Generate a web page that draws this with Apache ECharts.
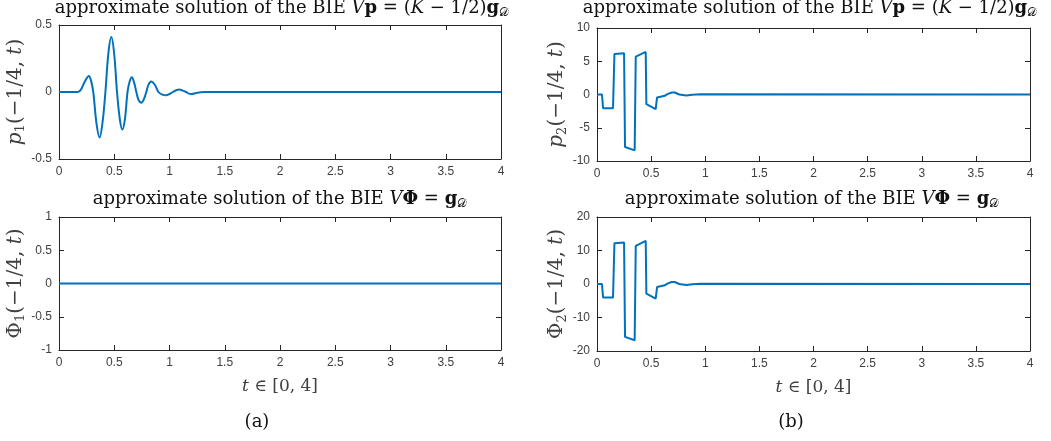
<!DOCTYPE html>
<html><head><meta charset="utf-8">
<script src="https://cdn.jsdelivr.net/npm/echarts@6/dist/echarts.min.js"></script>
<style>html,body{margin:0;padding:0;background:#fff}#c{width:1051px;height:441px}</style>
</head><body><div id="c"></div>
<script>
// ---- data ----
const xTicks = [0, 0.5, 1, 1.5, 2, 2.5, 3, 3.5, 4];
// (a) top: p1(-1/4,t)
const p1T = [0, 0.17, 0.2, 0.235, 0.27, 0.29, 0.31, 0.34, 0.368, 0.395, 0.42, 0.447, 0.474, 0.5, 0.525, 0.55, 0.573, 0.597, 0.62, 0.64, 0.66, 0.68, 0.7, 0.72, 0.745, 0.77, 0.79, 0.81, 0.835, 0.87, 0.9, 0.935, 0.97, 1.0, 1.03, 1.06, 1.09, 1.12, 1.15, 1.175, 1.2, 1.24, 1.28, 1.32, 4];
const p1V = [0, 0, 0.02, 0.08, 0.12, 0.085, 0.0, -0.24, -0.34, -0.22, 0.0, 0.29, 0.41, 0.28, 0.0, -0.2, -0.28, -0.2, 0.0, 0.08, 0.11, 0.07, 0.0, -0.06, -0.08, -0.05, 0.0, 0.055, 0.078, 0.05, 0.0, -0.02, -0.025, -0.015, 0.0, 0.013, 0.018, 0.01, 0.0, -0.012, -0.015, -0.008, -0.002, 0, 0];
// (a) bottom: Phi1(-1/4,t)
const phi1T = [0, 4];
const phi1V = [0, 0];
// (b) top: p2(-1/4,t)
const p2T = [0, 0.046, 0.056, 0.148, 0.161, 0.25, 0.259, 0.348, 0.358, 0.45, 0.456, 0.542, 0.555, 0.626, 0.65, 0.69, 0.718, 0.76, 0.826, 0.88, 0.96, 4];
const p2V = [0, 0, -2.05, -2.05, 6.1, 6.2, -7.9, -8.4, 5.7, 6.4, -1.45, -2.2, -0.45, -0.2, 0.05, 0.3, 0.3, 0.0, -0.15, -0.05, 0.02, 0];
// (b) bottom: Phi2(-1/4,t)
const phi2T = [0, 0.046, 0.056, 0.148, 0.161, 0.25, 0.259, 0.348, 0.358, 0.45, 0.456, 0.542, 0.555, 0.626, 0.65, 0.69, 0.718, 0.76, 0.826, 0.88, 0.96, 4];
const phi2V = [0, 0, -4.0, -4.0, 12.2, 12.4, -15.8, -16.8, 11.4, 12.9, -2.9, -4.4, -0.9, -0.4, 0.1, 0.6, 0.6, 0.0, -0.3, -0.1, 0.05, 0];

const yRanges = [[-0.5, 0.5, 0.5], [-10, 10, 5], [-1, 1, 0.5], [-20, 20, 10]];
const grids = [
  {left: 59, top: 25, width: 442, height: 134},
  {left: 597, top: 28, width: 433, height: 133},
  {left: 59, top: 217, width: 442, height: 133},
  {left: 597, top: 217, width: 433, height: 134}
];
const seriesData = [[p1T, p1V], [p2T, p2V], [phi1T, phi1V], [phi2T, phi2V]];
const smoothFlags = [0.35, false, false, false];

const serif = 'DejaVu Serif';
const axisColor = '#262626';
const labelColor = '#404040';
function richSet(size, color) {
  return {
    n: {fontFamily: serif, fontSize: size, fontWeight: 'normal', color: color},
    i: {fontFamily: serif, fontSize: size, fontWeight: 'normal', fontStyle: 'italic', color: color},
    b: {fontFamily: serif, fontSize: size, fontWeight: 'bold', color: color},
    s: {fontFamily: serif, fontSize: Math.round(size * 0.65), fontWeight: 'normal', color: color,
        padding: [Math.round(size * 0.5), 0, 0, 0]}
  };
}
const richTitle = richSet(18, '#111');
const richLetter = richSet(18, '#111');
const richYName = richSet(20, '#404040');
const richXName = richSet(17, '#404040');

const titleP = '{n|approximate solution of the BIE }{i|V}{b|p}{n| = (}{i|K}{n| − 1/2)}{b|g}{s|𝒟}';
const titlePhi = '{n|approximate solution of the BIE }{i|V}{b|Φ}{n| = }{b|g}{s|𝒟}';
const yNames = ['{i|p}{s|1}{n|(−1/4, }{i|t}{n|)}', '{i|p}{s|2}{n|(−1/4, }{i|t}{n|)}', '{n|Φ}{s|1}{n|(−1/4, }{i|t}{n|)}', '{n|Φ}{s|2}{n|(−1/4, }{i|t}{n|)}'];

const xAxes = [], yAxes = [], series = [];
grids.forEach((g, k) => {
  const bottomRow = k >= 2;
  xAxes.push({
    type: 'value', gridIndex: k, min: 0, max: 4, interval: 0.5,
    axisLine: {onZero: false, lineStyle: {color: axisColor, width: 1}},
    axisTick: {inside: true, length: 5, lineStyle: {color: axisColor}},
    axisLabel: {color: labelColor, fontFamily: 'Liberation Sans', fontSize: 12, margin: 7,
      formatter: v => String(v)},
    splitLine: {show: false},
    name: bottomRow ? '{i|t}{n| ∈ [0, 4]}' : '',
    nameLocation: 'middle', nameGap: 28,
    nameTextStyle: {rich: richXName}
  });
  xAxes.push({
    type: 'value', gridIndex: k, min: 0, max: 4, interval: 0.5, position: 'top',
    axisLine: {onZero: false, lineStyle: {color: axisColor, width: 1}},
    axisTick: {inside: true, length: 5, lineStyle: {color: axisColor}},
    axisLabel: {show: false}, splitLine: {show: false}
  });
  const r = yRanges[k];
  yAxes.push({
    type: 'value', gridIndex: k, min: r[0], max: r[1], interval: r[2],
    axisLine: {show: true, onZero: false, lineStyle: {color: axisColor, width: 1}},
    axisTick: {show: true, inside: true, length: 5, lineStyle: {color: axisColor}},
    axisLabel: {color: labelColor, fontFamily: 'Liberation Sans', fontSize: 12, margin: 7,
      formatter: v => String(v)},
    splitLine: {show: false},
    name: yNames[k], nameLocation: 'middle', nameRotate: 90,
    nameGap: k % 2 === 0 ? 31 : 28,
    nameTextStyle: {rich: richYName}
  });
  yAxes.push({
    type: 'value', gridIndex: k, min: r[0], max: r[1], interval: r[2], position: 'right',
    axisLine: {show: true, onZero: false, lineStyle: {color: axisColor, width: 1}},
    axisTick: {show: true, inside: true, length: 5, lineStyle: {color: axisColor}},
    axisLabel: {show: false}, splitLine: {show: false}
  });
  const [tt, vv] = seriesData[k];
  series.push({
    type: 'line', xAxisIndex: 2 * k, yAxisIndex: 2 * k,
    data: tt.map((t, i) => [t, vv[i]]),
    showSymbol: false, smooth: smoothFlags[k],
    lineStyle: {color: '#0072BD', width: 2}, itemStyle: {color: '#0072BD'},
    animation: false, clip: true
  });
});

const titles = [
  {text: titleP, left: 282, top: -2, textStyle: {fontWeight: 'normal', rich: richTitle}},
  {text: titleP, left: 810, top: -2, textStyle: {fontWeight: 'normal', rich: richTitle}},
  {text: titlePhi, left: 280, top: 189, textStyle: {fontWeight: 'normal', rich: richTitle}},
  {text: titlePhi, left: 812, top: 189, textStyle: {fontWeight: 'normal', rich: richTitle}},
  {text: '{n|(a)}', left: 257, top: 413, textStyle: {fontWeight: 'normal', rich: richLetter}},
  {text: '{n|(b)}', left: 791, top: 413, textStyle: {fontWeight: 'normal', rich: richLetter}}
].map(t => Object.assign({textAlign: 'center', padding: 0}, t));

const chart = echarts.init(document.getElementById('c'), null, {renderer: 'canvas'});
chart.setOption({
  animation: false,
  backgroundColor: '#fff',
  title: titles,
  grid: grids,
  xAxis: xAxes,
  yAxis: yAxes,
  series: series
});
</script></body></html>
